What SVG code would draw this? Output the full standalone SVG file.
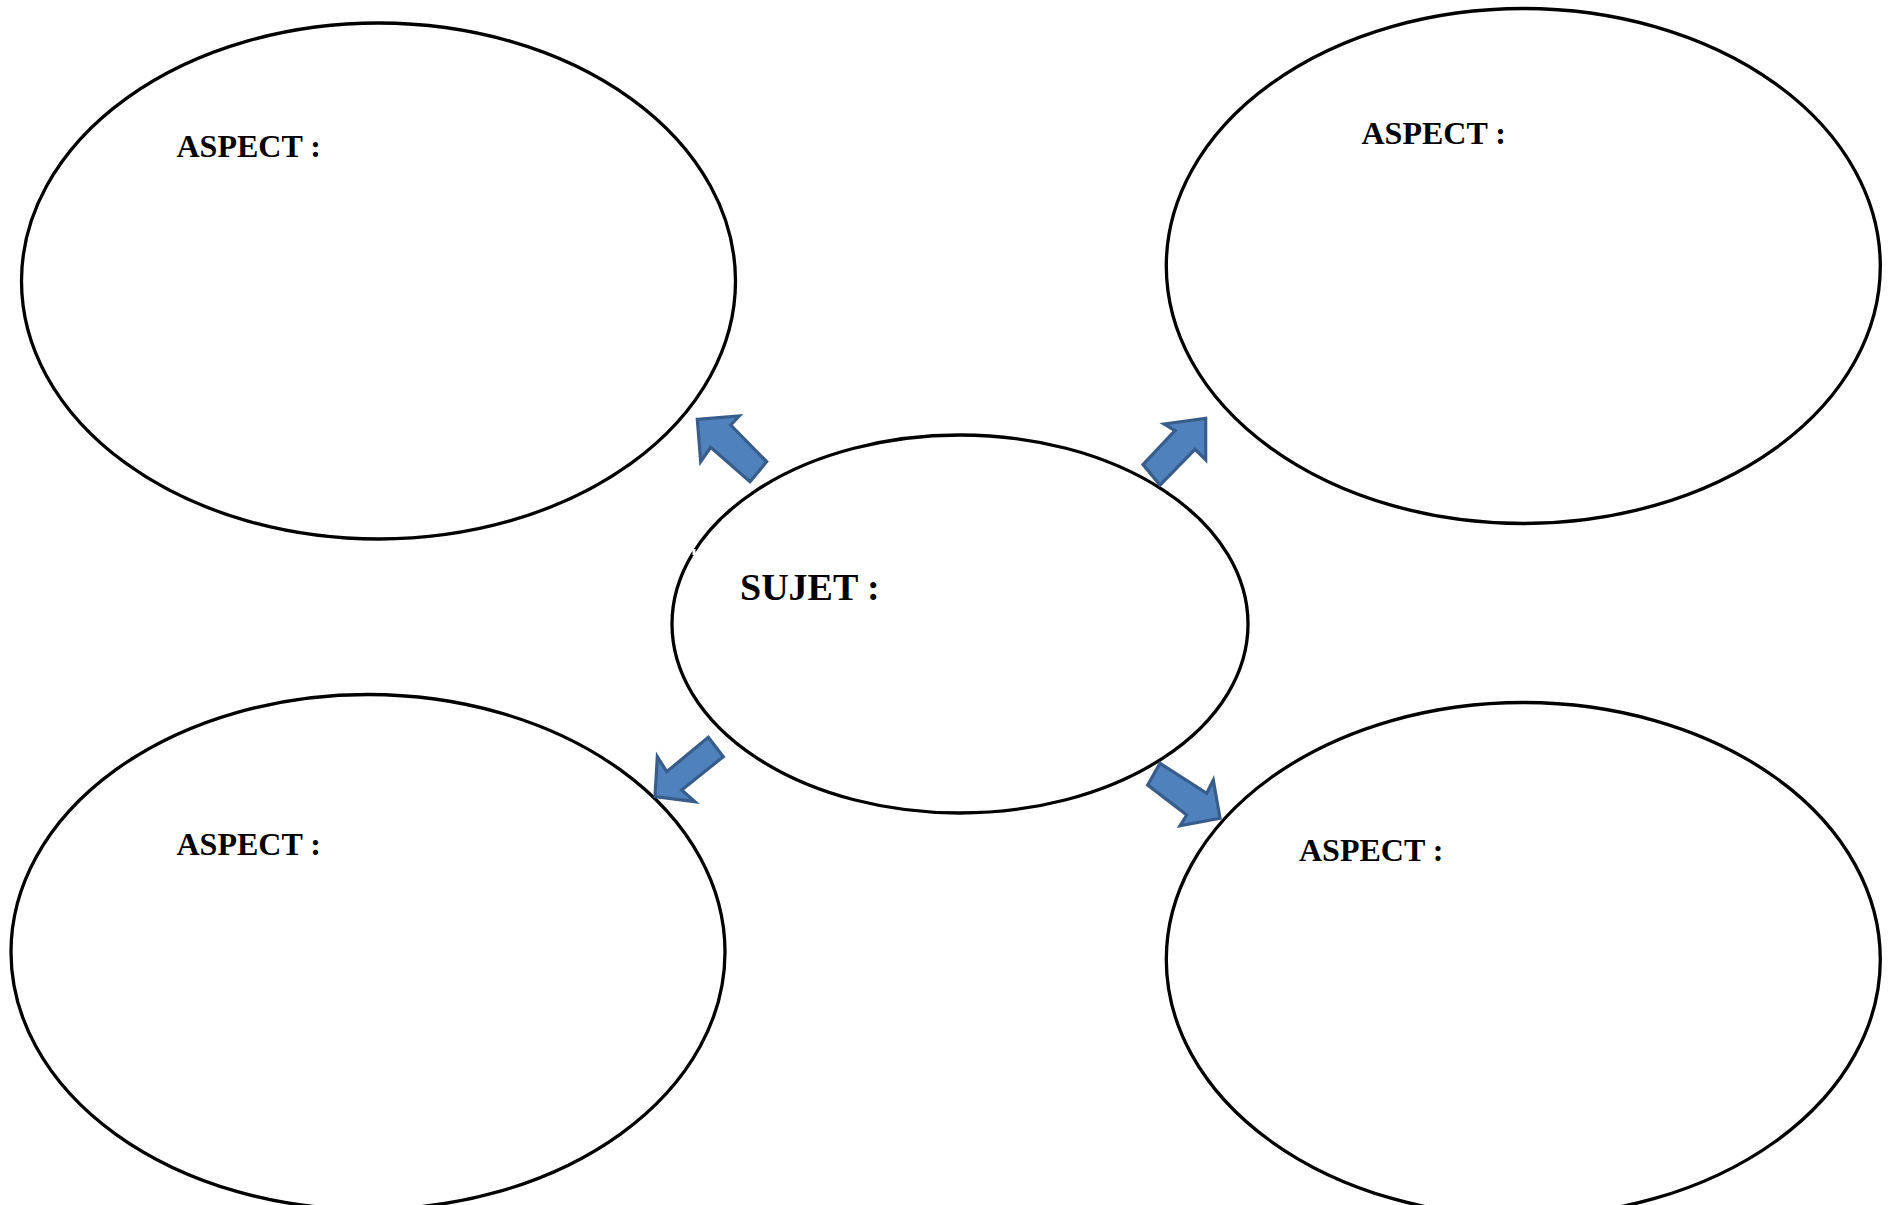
<svg xmlns="http://www.w3.org/2000/svg" width="1891" height="1205" viewBox="0 0 1891 1205">
<style>
.node{fill:#ffffff;stroke:#000000;stroke-width:3.3}
.lbl{font-family:"Liberation Serif","Times New Roman",serif;font-weight:bold;font-size:32px;fill:#000000}
.big{font-size:38px}
.arrow{fill:#4F81BD;stroke:#385D8A;stroke-width:3.2;stroke-linejoin:miter}
</style>
<rect width="1891" height="1205" fill="#ffffff"/>
<g id="aspect-top-left">
<ellipse class="node" cx="378.5" cy="281" rx="357" ry="258"/>
<text class="lbl" x="176.5" y="157">ASPECT :</text>
</g>
<g id="aspect-top-right">
<ellipse class="node" cx="1523.3" cy="266" rx="357" ry="257.5"/>
<text class="lbl" x="1361.5" y="144">ASPECT :</text>
</g>
<g id="aspect-bottom-left">
<ellipse class="node" cx="368" cy="952" rx="357" ry="257.5"/>
<text class="lbl" x="176.5" y="855">ASPECT :</text>
</g>
<g id="aspect-bottom-right">
<ellipse class="node" cx="1523.3" cy="959.5" rx="357" ry="257"/>
<text class="lbl" x="1299" y="861">ASPECT :</text>
</g>
<g id="sujet">
<ellipse class="node" cx="960" cy="624" rx="288" ry="189"/>
<rect x="692.5" y="549" width="3" height="6" fill="#ffffff"/>
<text class="lbl big" x="740" y="600">SUJET :</text>
</g>
<g id="connectors">
<polygon class="arrow" points="697.3,419.3 739.3,416 730.7,425 766.7,461.7 750,481.7 710.7,447.3 700.7,461.7"/>
<polygon class="arrow" points="1164,424 1205.7,418.3 1205.7,460 1195,449.3 1160,485 1143,464.5 1175,430.7"/>
<polygon class="arrow" points="708.3,737.3 723.3,756.7 681.7,790 695,801.7 655,796.7 657.3,756.7 666.7,771.7"/>
<polygon class="arrow" points="1160,763.3 1147.7,785 1186.7,815 1180,825.7 1220,818.3 1213.3,780 1206.7,793.3"/>
</g>
</svg>
